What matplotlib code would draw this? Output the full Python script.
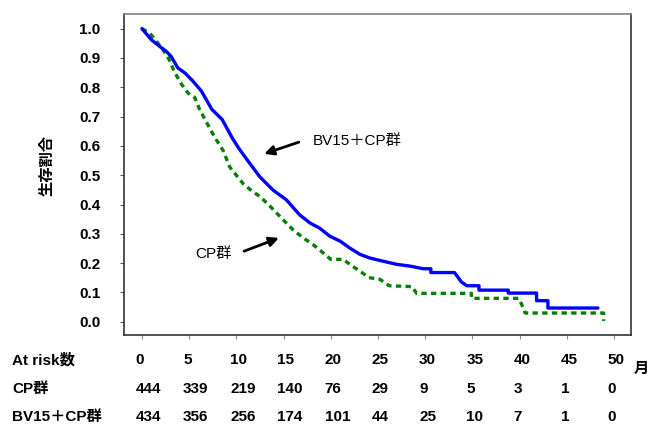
import numpy as np
import matplotlib
matplotlib.use("Agg")
from matplotlib import pyplot as plt
from matplotlib.transforms import blended_transform_factory

plt.rcParams['font.family'] = ['Liberation Sans', 'Noto Sans CJK JP', 'DejaVu Sans']

# Kaplan-Meier curves (months, survival);
# repeated times are the vertical drops of the sparse tail
bv_t = [0, 1.0, 1.9, 2.6, 3.1, 3.8, 4.55, 5.4, 6.3, 7.4, 8.5, 9.6, 10.3, 11.2, 12.5,
        13.9, 15.3, 16.7, 17.8, 18.8, 19.9, 21.0, 22.0, 23.1, 24.1, 25.5, 27.0, 28.4,
        29.8, 30.6, 30.6, 33.1, 33.5, 33.8, 34.4, 35.7, 35.7, 38.8, 38.8, 41.8, 41.8,
        43.0, 43.0, 48.3]
bv_s = [1.0, 0.962, 0.939, 0.922, 0.905, 0.866, 0.849, 0.821, 0.787, 0.725, 0.69,
        0.625, 0.59, 0.55, 0.494, 0.449, 0.416, 0.365, 0.337, 0.32, 0.292, 0.275,
        0.252, 0.23, 0.218, 0.207, 0.196, 0.19, 0.181, 0.181, 0.168, 0.168, 0.151,
        0.137, 0.123, 0.123, 0.108, 0.108, 0.098, 0.098, 0.072, 0.072, 0.047, 0.047]

cp_t = [0, 0.85, 2.1, 2.8, 3.5, 4.2, 4.9, 5.6, 6.1, 6.85, 7.7, 8.6, 9.3, 10.0, 10.7,
        11.5, 12.5, 13.4, 14.3, 15.2, 16.0, 17.1, 18.1, 19.2, 20.0, 21.3, 22.3, 23.3,
        24.0, 25.2, 26.2, 28.6, 29.1, 34.9, 34.9, 39.9, 40.2, 40.6, 48.9, 48.9]
cp_s = [1.0, 0.984, 0.934, 0.90, 0.849, 0.81, 0.78, 0.765, 0.725, 0.68, 0.63, 0.584,
        0.528, 0.50, 0.472, 0.45, 0.427, 0.40, 0.37, 0.34, 0.314, 0.286, 0.264, 0.235,
        0.213, 0.213, 0.19, 0.168, 0.151, 0.145, 0.123, 0.12, 0.097, 0.097, 0.08, 0.08,
        0.061, 0.03, 0.03, 0.003]

# number at risk table
risk_times = [0, 5, 10, 15, 20, 25, 30, 35, 40, 45, 50]
cp_risk = [444, 339, 219, 140, 76, 29, 9, 5, 3, 1, 0]
bv_risk = [434, 356, 256, 174, 101, 44, 25, 10, 7, 1, 0]
row_labels = ["At risk数", "CP群", "BV15＋CP群"]

fig = plt.figure(figsize=(6.5, 4.25), dpi=100)
ax = fig.add_axes([124 / 650, 1 - 335 / 425, (631 - 124) / 650, (335 - 14) / 425])

ax.plot(cp_t, cp_s, color="#008000", lw=2.4, linestyle=(0, (1.6, 1.3)))
ax.plot(bv_t, bv_s, color="#0000ff", lw=2.4, solid_capstyle="round")

ax.set_xlim(-1.9, 51.8)
ax.set_ylim(-0.045, 1.05)
ax.set_xticks(risk_times)
ax.set_xticklabels([])
ax.set_yticks(np.arange(0, 1.01, 0.1))
ax.set_yticklabels(["{:.1f}".format(v) for v in np.arange(0, 1.01, 0.1)],
                   fontsize=11, fontweight="bold")
ax.tick_params(axis="y", length=3, width=0.8, color="#555555", pad=14)
ax.tick_params(axis="x", length=3, width=0.8, color="#888888")
for side in ["left", "bottom", "right"]:
    ax.spines[side].set_color("#333333")
    ax.spines[side].set_linewidth(1.2)
ax.spines["top"].set_color("#808080")
ax.spines["top"].set_linewidth(1.2)

fig.text(47 / 650, 1 - 165 / 425, "生存割合", rotation=90, ha="center", va="center",
         fontsize=11, fontweight="bold")

# group labels with arrows
ax.annotate("", xy=(12.67, 0.570), xytext=(16.9, 0.616),
            arrowprops=dict(arrowstyle="-|>", color="black", lw=2, mutation_scale=14))
ax.text(18.1, 0.618, "BV15＋CP群", fontsize=11, ha="left", va="center")
ax.annotate("", xy=(14.78, 0.2895), xytext=(10.55, 0.2375),
            arrowprops=dict(arrowstyle="-|>", color="black", lw=2, mutation_scale=14))
ax.text(5.6, 0.23, "CP群", fontsize=11, ha="left", va="center")

# at risk table below the axes
trans = blended_transform_factory(ax.transData, fig.transFigure)
row_y = [1 - 360 / 425, 1 - 389 / 425, 1 - 417 / 425]
for lab, y in zip(row_labels, row_y):
    fig.text(12 / 650, y, lab, ha="left", va="center", fontsize=11, fontweight="bold")
for t, c, b in zip(risk_times, cp_risk, bv_risk):
    for y, val in zip(row_y, [t, c, b]):
        ax.text(t - 0.65, y, str(val), transform=trans, ha="left", va="center",
                fontsize=11, fontweight="bold", clip_on=False)
fig.text(634 / 650, 1 - 369 / 425, "月", ha="left", va="center", fontsize=11,
         fontweight="bold")

fig.savefig("out.png", dpi=100)
